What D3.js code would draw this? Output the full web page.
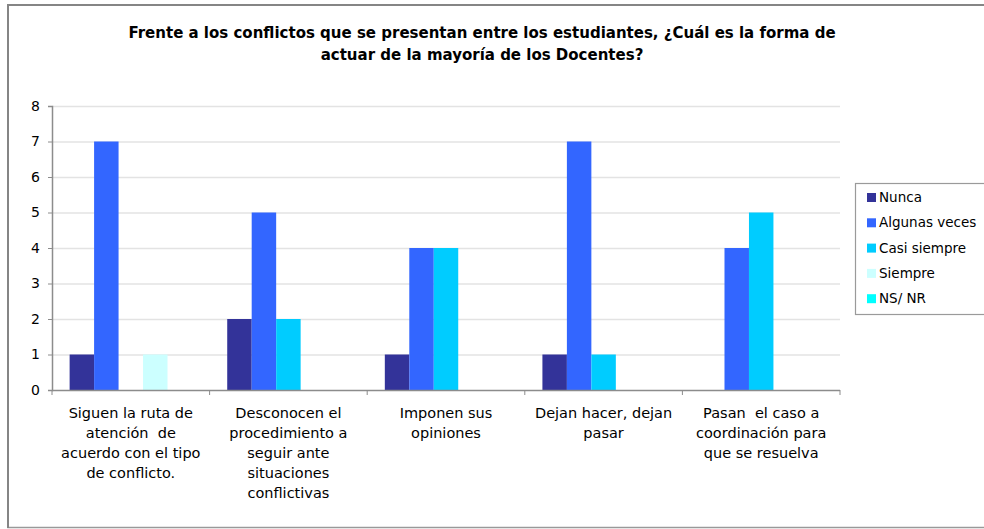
<!DOCTYPE html>
<html>
<head>
<meta charset="utf-8">
<script src="https://cdn.jsdelivr.net/npm/d3@7"></script>
<style>
  html, body { margin: 0; padding: 0; background: #fff; overflow: hidden; }
  svg text { font-family: "DejaVu Sans", Verdana, sans-serif; fill: #000; white-space: pre; }
</style>
</head>
<body>
<script>
'use strict';

var categories = ['Siguen', 'Desconocen', 'Imponen', 'Dejan', 'Pasan'];
var categoryLines = [
  ['Siguen la ruta de', 'atención  de', 'acuerdo con el tipo', 'de conflicto.'],
  ['Desconocen el', 'procedimiento a', 'seguir ante', 'situaciones', 'conflictivas'],
  ['Imponen sus', 'opiniones'],
  ['Dejan hacer, dejan', 'pasar'],
  ['Pasan  el caso a', 'coordinación para', 'que se resuelva']
];
var seriesNames = ['Nunca', 'Algunas veces', 'Casi siempre', 'Siempre', 'NS/ NR'];
var seriesColors = ['#333399', '#3366ff', '#00ccff', '#ccffff', '#00ffff'];
var nunca = [1, 2, 1, 1, 0];
var algunasVeces = [7, 5, 4, 7, 4];
var casiSiempre = [0, 2, 4, 1, 5];
var siempre = [1, 0, 0, 0, 0];
var nsNr = [0, 0, 0, 0, 0];
var yTicks = [0, 1, 2, 3, 4, 5, 6, 7, 8];
var titleLines = [
  'Frente a los conflictos que se presentan entre los estudiantes, ¿Cuál es la forma de',
  'actuar de la mayoría de los Docentes?'
];

var values = [nunca, algunasVeces, casiSiempre, siempre, nsNr];

var width = 984, height = 529;
var plot = { left: 52, right: 840, top: 106, bottom: 390 };

var svg = d3.select('body').append('svg')
  .attr('width', width)
  .attr('height', height);

// outer frame (right edge runs off the picture)
svg.append('rect')
  .attr('x', 8).attr('y', 5)
  .attr('width', 990).attr('height', 522.5)
  .attr('fill', '#fff')
  .attr('stroke', '#999')
  .attr('stroke-width', 1.5);
svg.append('path')
  .attr('d', 'M8,528 V5 H984')
  .attr('fill', 'none')
  .attr('stroke', '#858585')
  .attr('stroke-width', 2);

// title
svg.append('g').selectAll('text')
  .data(titleLines)
  .enter().append('text')
    .attr('x', 482)
    .attr('y', function(d, i) { return 38 + i * 22; })
    .attr('text-anchor', 'middle')
    .style('font-size', '15px')
    .style('font-weight', 'bold')
    .text(function(d) { return d; });

var x0 = d3.scaleBand()
  .domain(categories)
  .range([plot.left, plot.right])
  .padding(0);

var x1 = d3.scaleBand()
  .domain(seriesNames)
  .range([0, x0.bandwidth()])
  .paddingInner(0)
  .paddingOuter(0.72);

var y = d3.scaleLinear()
  .domain([0, 8])
  .range([plot.bottom, plot.top]);

// gridlines
svg.append('g').selectAll('line')
  .data(yTicks.slice(1))
  .enter().append('line')
    .attr('x1', plot.left).attr('x2', plot.right)
    .attr('y1', function(d) { return y(d) + 0.5; })
    .attr('y2', function(d) { return y(d) + 0.5; })
    .attr('stroke', '#e3e3e3')
    .attr('stroke-width', 1.5);

// bars
var rows = [];
categories.forEach(function(c, ci) {
  seriesNames.forEach(function(s, si) {
    if (values[si][ci] > 0) rows.push({ cat: c, series: s, si: si, value: values[si][ci] });
  });
});

svg.append('g').selectAll('rect')
  .data(rows)
  .enter().append('rect')
    .attr('x', function(d) { return x0(d.cat) + x1(d.series); })
    .attr('y', function(d) { return y(d.value); })
    .attr('width', x1.bandwidth())
    .attr('height', function(d) { return y(0) - y(d.value); })
    .attr('fill', function(d) { return seriesColors[d.si]; });

// y axis
var yAxis = svg.append('g')
  .attr('transform', 'translate(' + plot.left + ',0)')
  .call(d3.axisLeft(y).tickValues(yTicks).tickSize(4).tickPadding(8).tickFormat(d3.format('d')));
yAxis.select('.domain').attr('stroke', '#8c8c8c').attr('stroke-width', 1.5);
yAxis.selectAll('.tick line').attr('stroke', '#8c8c8c');
yAxis.selectAll('.tick text').style('font-size', '14px').attr('font-family', null);

// x axis
var xAxis = svg.append('g')
  .attr('transform', 'translate(0,' + plot.bottom + ')');
xAxis.append('line')
  .attr('x1', plot.left).attr('x2', plot.right)
  .attr('y1', 0.5).attr('y2', 0.5)
  .attr('stroke', '#8c8c8c').attr('stroke-width', 1.5);
var boundaries = categories.map(function(c) { return x0(c); }).concat([plot.right]);
xAxis.selectAll('line.tk')
  .data(boundaries)
  .enter().append('line')
    .attr('class', 'tk')
    .attr('x1', function(d) { return d; }).attr('x2', function(d) { return d; })
    .attr('y1', 0).attr('y2', 5)
    .attr('stroke', '#8c8c8c');

var labels = xAxis.selectAll('text.cat')
  .data(categories)
  .enter().append('text')
    .attr('class', 'cat')
    .attr('text-anchor', 'middle')
    .style('font-size', '14.5px');
labels.each(function(c, i) {
  var t = d3.select(this);
  categoryLines[i].forEach(function(line, li) {
    t.append('tspan')
      .attr('x', x0(c) + x0.bandwidth() / 2)
      .attr('y', 28 + li * 20)
      .text(line);
  });
});

// legend
var legend = svg.append('g');
legend.append('rect')
  .attr('x', 855.5).attr('y', 183.5)
  .attr('width', 140).attr('height', 131)
  .attr('fill', '#fff')
  .attr('stroke', '#9a9a9a')
  .attr('stroke-width', 1.2);
var items = legend.selectAll('g.item')
  .data(seriesNames)
  .enter().append('g')
    .attr('class', 'item')
    .attr('transform', function(d, i) { return 'translate(867,' + (197 + i * 25.3) + ')'; });
items.append('rect')
  .attr('x', 0).attr('y', -4)
  .attr('width', 9).attr('height', 9)
  .attr('fill', function(d, i) { return seriesColors[i]; });
items.append('text')
  .attr('x', 12)
  .attr('y', 5)
  .style('font-size', '13.5px')
  .text(function(d) { return d; });
</script>
</body>
</html>
